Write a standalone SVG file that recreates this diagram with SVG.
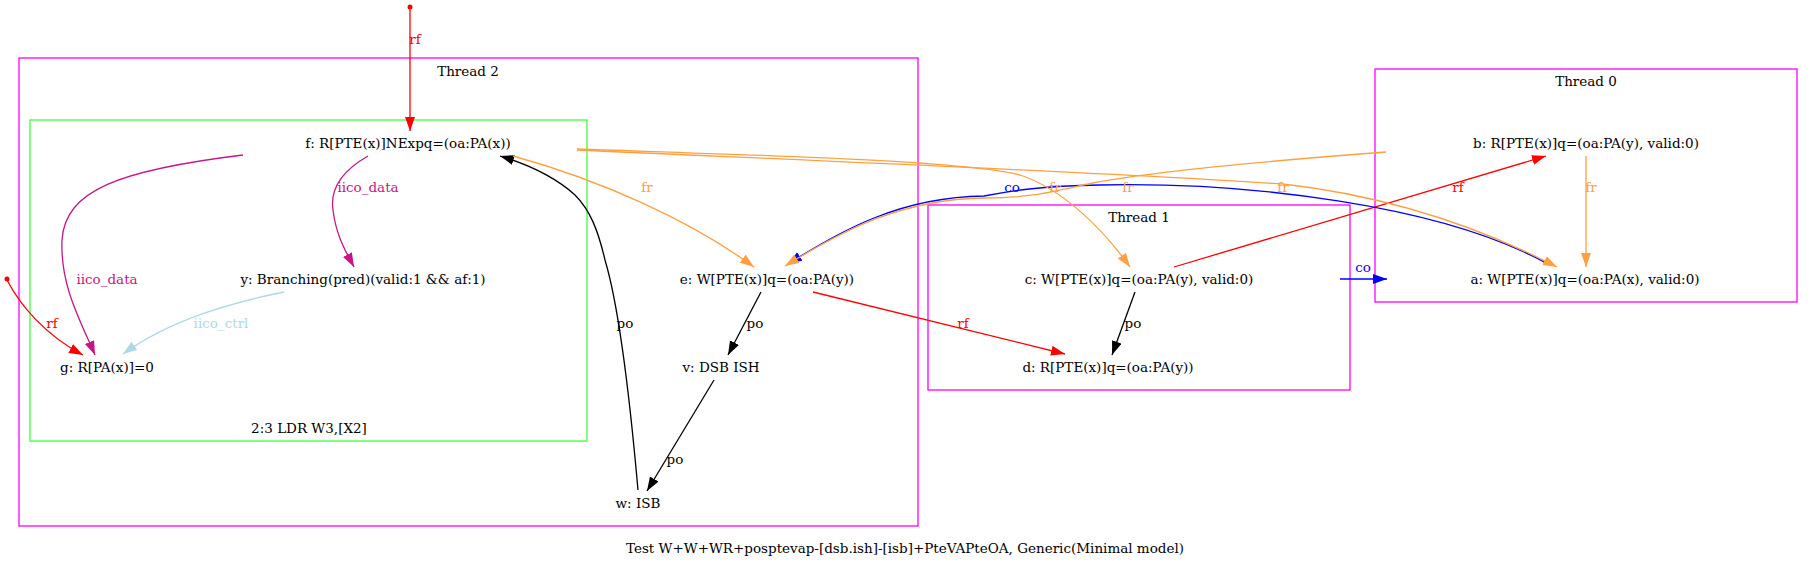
<svg xmlns="http://www.w3.org/2000/svg" width="1813" height="568" viewBox="0 0 1813 568">
<style>
text{font-family:"DejaVu Serif","Liberation Serif",serif;font-size:13.5px;text-anchor:middle;fill:#000}
.cl{fill:none;stroke-width:1.3}
.e{fill:none;stroke-width:1.3}
.red{stroke:#ff0000}.org{stroke:#ffa040}.blk{stroke:#000}.blu{stroke:#0000ff}.mvr{stroke:#c71585}.lb{stroke:#add8e6}
.tred{fill:#ff0000}.torg{fill:#ffa040}.tblu{fill:#0000ff}.tmvr{fill:#c71585}.tlb{fill:#add8e6}
</style>
<defs>
<marker id="ar" markerUnits="userSpaceOnUse" markerWidth="15" markerHeight="11" refX="14" refY="5" orient="auto"><path d="M0,0 L14,5 L0,10 z" fill="#ff0000"/></marker>
<marker id="ao" markerUnits="userSpaceOnUse" markerWidth="15" markerHeight="11" refX="14" refY="5" orient="auto"><path d="M0,0 L14,5 L0,10 z" fill="#ffa040"/></marker>
<marker id="ak" markerUnits="userSpaceOnUse" markerWidth="15" markerHeight="11" refX="14" refY="5" orient="auto"><path d="M0,0 L14,5 L0,10 z" fill="#000"/></marker>
<marker id="ab" markerUnits="userSpaceOnUse" markerWidth="15" markerHeight="11" refX="14" refY="5" orient="auto"><path d="M0,0 L14,5 L0,10 z" fill="#0000ff"/></marker>
<marker id="am" markerUnits="userSpaceOnUse" markerWidth="15" markerHeight="11" refX="14" refY="5" orient="auto"><path d="M0,0 L14,5 L0,10 z" fill="#c71585"/></marker>
<marker id="al" markerUnits="userSpaceOnUse" markerWidth="15" markerHeight="11" refX="14" refY="5" orient="auto"><path d="M0,0 L14,5 L0,10 z" fill="#add8e6"/></marker>
</defs>
<rect width="1813" height="568" fill="#fff"/>
<g id="clusters">
<g id="thread2"><rect class="cl" x="19" y="58" width="899" height="468" stroke="#ff00ff"/><text x="468" y="75.5">Thread 2</text></g>
<g id="instr"><rect class="cl" x="30" y="120" width="557" height="321" stroke="#40ff40"/><text x="309" y="432.5">2:3 LDR W3,[X2]</text></g>
<g id="thread1"><rect class="cl" x="928" y="205" width="422" height="185" stroke="#ff00ff"/><text x="1139" y="221.5">Thread 1</text></g>
<g id="thread0"><rect class="cl" x="1375" y="69" width="422" height="233" stroke="#ff00ff"/><text x="1586" y="85.5">Thread 0</text></g>
</g>
<g id="edges">
<circle cx="410" cy="7" r="2.5" fill="#ff0000"/>
<path class="e red" d="M410,9 L410,131" marker-end="url(#ar)"/>
<text class="tred" x="415" y="43.5">rf</text>
<circle cx="7" cy="279" r="2.5" fill="#ff0000"/>
<path class="e red" d="M7,280 C20,305 45,335 83,355" marker-end="url(#ar)"/>
<text class="tred" x="52" y="327.5">rf</text>
<path class="e mvr" d="M243,155 C120,170 65,190 62,240 C60,285 80,320 95,355" marker-end="url(#am)"/>
<text class="tmvr" x="107" y="283.5">iico_data</text>
<path class="e mvr" d="M368,156 C340,172 330,190 333,210 C336,235 345,250 354,267" marker-end="url(#am)"/>
<text class="tmvr" x="368" y="191.5">iico_data</text>
<path class="e lb" d="M284,292 C230,303 170,320 123,354" marker-end="url(#al)"/>
<text class="tlb" x="221" y="327.5">iico_ctrl</text>
<path class="e blk" d="M638,490 C630,400 620,310 605,260 C598,230 590,210 575,195 C555,177 530,165 500,156" marker-end="url(#ak)"/>
<text x="625" y="327.5">po</text>
<path class="e org" d="M513,156 C600,180 690,220 754,267" marker-end="url(#ao)"/>
<text class="torg" x="647" y="191.5">fr</text>
<path class="e blk" d="M761,292 L728,355" marker-end="url(#ak)"/>
<text x="755" y="327.5">po</text>
<path class="e blk" d="M714,380 L647,491" marker-end="url(#ak)"/>
<text x="675" y="463.5">po</text>
<path class="e red" d="M813,292 L1065,354" marker-end="url(#ar)"/>
<text class="tred" x="963" y="327.5">rf</text>
<path class="e blk" d="M1135,292 L1112,355" marker-end="url(#ak)"/>
<text x="1133" y="327.5">po</text>
<path class="e red" d="M1174,267 L1546,156" marker-end="url(#ar)"/>
<text class="tred" x="1458" y="191.5">rf</text>
<path class="e blu" d="M1340,279 L1387,279" marker-end="url(#ab)"/>
<text class="tblu" x="1363" y="271.5">co</text>
<path class="e org" d="M1586,156 L1586,267" marker-end="url(#ao)"/>
<text class="torg" x="1591" y="191.5">fr</text>
<path class="e blu" d="M1546,263 C1440,205 1250,182 1100,185 C1040,186 1010,191 984,196 C900,197 840,231 788,264" marker-end="url(#ab)"/>
<text class="tblu" x="1012" y="191.5">co</text>
<path class="e org" d="M577,149 C750,155 960,160 1020,175 C1060,188 1100,225 1130,267" marker-end="url(#ao)"/>
<text class="torg" x="1055" y="191.5">fr</text>
<path class="e org" d="M1386,152 C1280,160 1160,170 1093,183 C1050,192 1030,198 985,198 C900,199 840,232 785,266" marker-end="url(#ao)"/>
<text class="torg" x="1128" y="191.5">fr</text>
<path class="e org" d="M577,150 C800,160 1100,172 1283,184 C1380,195 1470,222 1557,267" marker-end="url(#ao)"/>
<text class="torg" x="1283" y="191.5">fr</text>
</g>
<g id="node-f"><text x="408" y="147.5">f: R[PTE(x)]NExpq=(oa:PA(x))</text></g>
<g id="node-y"><text x="363" y="283.5">y: Branching(pred)(valid:1 &amp;&amp; af:1)</text></g>
<g id="node-g"><text x="107" y="371.5">g: R[PA(x)]=0</text></g>
<g id="node-e"><text x="767" y="283.5">e: W[PTE(x)]q=(oa:PA(y))</text></g>
<g id="node-v"><text x="721" y="371.5">v: DSB ISH</text></g>
<g id="node-w"><text x="638" y="507.5">w: ISB</text></g>
<g id="node-c"><text x="1139" y="283.5">c: W[PTE(x)]q=(oa:PA(y), valid:0)</text></g>
<g id="node-d"><text x="1108" y="371.5">d: R[PTE(x)]q=(oa:PA(y))</text></g>
<g id="node-b"><text x="1586" y="147.5">b: R[PTE(x)]q=(oa:PA(y), valid:0)</text></g>
<g id="node-a"><text x="1585" y="283.5">a: W[PTE(x)]q=(oa:PA(x), valid:0)</text></g>
<g id="title"><text x="905" y="552.5">Test W+W+WR+posptevap-[dsb.ish]-[isb]+PteVAPteOA, Generic(Minimal model)</text></g>
</svg>
